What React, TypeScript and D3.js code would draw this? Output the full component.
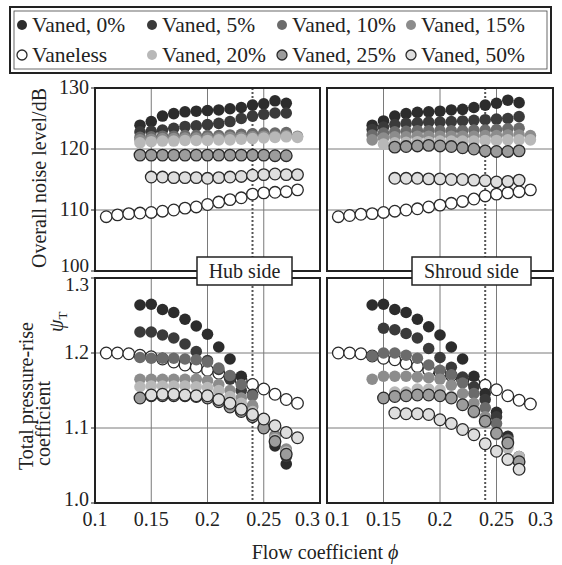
import React from 'react';
import * as d3 from 'd3';

// flow coefficient grids
const phi11_28 = [0.11, 0.12, 0.13, 0.14, 0.15, 0.16, 0.17, 0.18, 0.19, 0.2, 0.21, 0.22, 0.23, 0.24, 0.25, 0.26, 0.27, 0.28];
const phi14_27 = [0.14, 0.15, 0.16, 0.17, 0.18, 0.19, 0.2, 0.21, 0.22, 0.23, 0.24, 0.25, 0.26, 0.27];
const phi14_28 = [0.14, 0.15, 0.16, 0.17, 0.18, 0.19, 0.2, 0.21, 0.22, 0.23, 0.24, 0.25, 0.26, 0.27, 0.28];
const phi15_27 = [0.15, 0.16, 0.17, 0.18, 0.19, 0.2, 0.21, 0.22, 0.23, 0.24, 0.25, 0.26, 0.27];
const phi15_28 = [0.15, 0.16, 0.17, 0.18, 0.19, 0.2, 0.21, 0.22, 0.23, 0.24, 0.25, 0.26, 0.27, 0.28];
const phi16_27 = [0.16, 0.17, 0.18, 0.19, 0.2, 0.21, 0.22, 0.23, 0.24, 0.25, 0.26, 0.27];

const phiTicks = [0.1, 0.15, 0.2, 0.25, 0.3];
const phiTickLabels = ['0.1', '0.15', '0.2', '0.25', '0.3'];
const noiseTicks = [100, 110, 120, 130];
const psiTicks = [1.0, 1.1, 1.2, 1.3];
const psiTickLabels = ['1.0', '1.1', '1.2', '1.3'];
const designPhi = 0.24;

// hub side, overall noise level (dB)
const hubNoiseVaneless = [108.9, 109.2, 109.4, 109.5, 109.6, 109.8, 110.0, 110.3, 110.5, 110.9, 111.3, 111.7, 112.0, 112.6, 112.8, 112.9, 113.0, 113.3];
const hubNoise0 = [123.9, 124.5, 125.4, 125.8, 126.1, 126.2, 126.3, 126.4, 126.6, 126.8, 127.2, 127.4, 127.9, 127.5];
const hubNoise5 = [122.8, 122.9, 123.1, 123.4, 123.7, 123.8, 124.0, 124.2, 124.5, 125.0, 125.4, 125.7, 125.9, 125.9];
const hubNoise10 = [121.9, 122.0, 122.1, 122.1, 122.2, 122.2, 122.2, 122.2, 122.3, 122.4, 122.5, 122.6, 122.6, 122.7];
const hubNoise15 = [121.5, 121.6, 121.7, 121.7, 121.8, 121.8, 121.8, 121.8, 121.9, 121.9, 122.0, 122.1, 122.1, 122.2, 122.1];
const hubNoise20 = [121.0, 121.2, 121.3, 121.3, 121.4, 121.4, 121.4, 121.5, 121.5, 121.6, 121.7, 121.8, 121.9, 122.0, 121.9];
const hubNoise25 = [119.0, 119.0, 119.0, 119.0, 119.0, 119.0, 119.0, 119.0, 119.0, 119.0, 119.0, 119.0, 118.9, 118.9];
const hubNoise50 = [115.4, 115.4, 115.3, 115.3, 115.3, 115.2, 115.3, 115.4, 115.5, 115.7, 115.8, 115.9, 115.8, 115.8];

// shroud side, overall noise level (dB)
const shrNoiseVaneless = [108.9, 109.1, 109.3, 109.4, 109.6, 109.8, 110.0, 110.2, 110.5, 110.8, 111.1, 111.4, 111.8, 112.3, 112.6, 112.8, 113.0, 113.3];
const shrNoise0 = [123.9, 124.6, 125.4, 125.8, 126.0, 126.1, 126.2, 126.4, 126.5, 126.8, 127.2, 127.5, 128.0, 127.6];
const shrNoise5 = [123.2, 123.6, 124.0, 124.2, 124.3, 124.4, 124.4, 124.5, 124.6, 124.7, 124.8, 124.9, 125.0, 125.3];
const shrNoise10 = [122.3, 122.6, 122.8, 122.9, 123.0, 123.0, 123.0, 123.0, 123.0, 123.1, 123.1, 123.2, 123.3, 123.4];
const shrNoise15 = [121.5, 121.8, 122.0, 122.0, 122.1, 122.1, 122.1, 122.1, 122.1, 122.1, 122.2, 122.2, 122.3, 122.3, 122.2];
const shrNoise20 = [120.8, 121.0, 121.1, 121.2, 121.2, 121.3, 121.3, 121.3, 121.3, 121.4, 121.4, 121.5, 121.5, 121.5];
const shrNoise25 = [120.3, 120.4, 120.5, 120.6, 120.5, 120.4, 120.2, 120.0, 119.7, 119.6, 119.6, 119.7];
const shrNoise50 = [115.2, 115.2, 115.2, 115.1, 115.1, 115.0, 115.0, 114.9, 114.8, 114.6, 114.7, 114.9];

// hub side, total pressure-rise coefficient
const hubPsiVaneless = [1.200, 1.200, 1.199, 1.197, 1.195, 1.192, 1.188, 1.184, 1.181, 1.177, 1.173, 1.168, 1.163, 1.158, 1.152, 1.145, 1.138, 1.133];
const hubPsi0 = [1.264, 1.265, 1.258, 1.254, 1.245, 1.236, 1.225, 1.208, 1.192, 1.169, 1.145, 1.103, 1.076, 1.052];
const hubPsi5 = [1.228, 1.228, 1.224, 1.220, 1.212, 1.202, 1.190, 1.178, 1.165, 1.150, 1.128, 1.105, 1.082, 1.062];
const hubPsi10 = [1.194, 1.193, 1.193, 1.193, 1.192, 1.191, 1.188, 1.180, 1.170, 1.158, 1.143, 1.112, 1.090, 1.070];
const hubPsi15 = [1.165, 1.165, 1.165, 1.165, 1.165, 1.165, 1.163, 1.158, 1.150, 1.140, 1.130, 1.108, 1.088, 1.072];
const hubPsi20 = [1.155, 1.156, 1.156, 1.156, 1.156, 1.155, 1.154, 1.150, 1.142, 1.133, 1.122, 1.102, 1.085, 1.068];
const hubPsi25 = [1.140, 1.143, 1.143, 1.143, 1.143, 1.142, 1.140, 1.135, 1.128, 1.122, 1.115, 1.100, 1.082, 1.065];
const hubPsi50 = [1.144, 1.145, 1.145, 1.144, 1.143, 1.143, 1.138, 1.133, 1.125, 1.118, 1.112, 1.103, 1.094, 1.087];

// shroud side, total pressure-rise coefficient
const shrPsiVaneless = [1.200, 1.200, 1.199, 1.196, 1.193, 1.191, 1.186, 1.182, 1.177, 1.174, 1.170, 1.164, 1.160, 1.157, 1.151, 1.143, 1.137, 1.132];
const shrPsi0 = [1.264, 1.265, 1.258, 1.254, 1.245, 1.235, 1.224, 1.208, 1.192, 1.169, 1.146, 1.121, 1.089, 1.055];
const shrPsi5 = [1.233, 1.231, 1.226, 1.220, 1.206, 1.194, 1.181, 1.168, 1.155, 1.138, 1.115, 1.085, 1.062];
const shrPsi10 = [1.196, 1.200, 1.200, 1.197, 1.193, 1.184, 1.177, 1.171, 1.160, 1.146, 1.127, 1.106, 1.084, 1.060];
const shrPsi15 = [1.165, 1.169, 1.169, 1.169, 1.168, 1.167, 1.165, 1.157, 1.146, 1.133, 1.115, 1.093, 1.075, 1.058];
const shrPsi20 = [1.148, 1.148, 1.152, 1.152, 1.151, 1.142, 1.131, 1.120, 1.106, 1.091, 1.073, 1.062];
const shrPsi25 = [1.140, 1.142, 1.143, 1.144, 1.144, 1.143, 1.140, 1.131, 1.122, 1.109, 1.093, 1.080, 1.055];
const shrPsi50 = [1.120, 1.119, 1.119, 1.118, 1.111, 1.106, 1.098, 1.091, 1.079, 1.069, 1.058, 1.045];

// legend order (two rows of four) and styles
const legendNames = ['Vaned, 0%', 'Vaned, 5%', 'Vaned, 10%', 'Vaned, 15%', 'Vaneless', 'Vaned, 20%', 'Vaned, 25%', 'Vaned, 50%'];
const styles: Record<string, { fill: string; stroke: string }> = {
  'Vaneless': { fill: '#ffffff', stroke: '#2a2a2a' },
  'Vaned, 0%': { fill: '#2c2c2c', stroke: 'none' },
  'Vaned, 5%': { fill: '#3a3a3a', stroke: 'none' },
  'Vaned, 10%': { fill: '#6b6b6b', stroke: 'none' },
  'Vaned, 15%': { fill: '#8c8c8c', stroke: 'none' },
  'Vaned, 20%': { fill: '#b8b8b8', stroke: 'none' },
  'Vaned, 25%': { fill: '#9c9c9c', stroke: '#2a2a2a' },
  'Vaned, 50%': { fill: '#dedede', stroke: '#2a2a2a' },
};

type Series = { name: string; phi: number[]; v: number[] };

// draw order: vaneless first, then vaned
const hubNoise: Series[] = [
  { name: 'Vaneless', phi: phi11_28, v: hubNoiseVaneless },
  { name: 'Vaned, 0%', phi: phi14_27, v: hubNoise0 },
  { name: 'Vaned, 5%', phi: phi14_27, v: hubNoise5 },
  { name: 'Vaned, 10%', phi: phi14_27, v: hubNoise10 },
  { name: 'Vaned, 15%', phi: phi14_28, v: hubNoise15 },
  { name: 'Vaned, 20%', phi: phi14_28, v: hubNoise20 },
  { name: 'Vaned, 25%', phi: phi14_27, v: hubNoise25 },
  { name: 'Vaned, 50%', phi: phi15_28, v: hubNoise50 },
];
const shrNoise: Series[] = [
  { name: 'Vaneless', phi: phi11_28, v: shrNoiseVaneless },
  { name: 'Vaned, 0%', phi: phi14_27, v: shrNoise0 },
  { name: 'Vaned, 5%', phi: phi14_27, v: shrNoise5 },
  { name: 'Vaned, 10%', phi: phi14_27, v: shrNoise10 },
  { name: 'Vaned, 15%', phi: phi14_28, v: shrNoise15 },
  { name: 'Vaned, 20%', phi: phi15_28, v: shrNoise20 },
  { name: 'Vaned, 25%', phi: phi16_27, v: shrNoise25 },
  { name: 'Vaned, 50%', phi: phi16_27, v: shrNoise50 },
];
const hubPsi: Series[] = [
  { name: 'Vaneless', phi: phi11_28, v: hubPsiVaneless },
  { name: 'Vaned, 0%', phi: phi14_27, v: hubPsi0 },
  { name: 'Vaned, 5%', phi: phi14_27, v: hubPsi5 },
  { name: 'Vaned, 10%', phi: phi14_27, v: hubPsi10 },
  { name: 'Vaned, 15%', phi: phi14_27, v: hubPsi15 },
  { name: 'Vaned, 20%', phi: phi14_27, v: hubPsi20 },
  { name: 'Vaned, 25%', phi: phi14_27, v: hubPsi25 },
  { name: 'Vaned, 50%', phi: phi15_28, v: hubPsi50 },
];
const shrPsi: Series[] = [
  { name: 'Vaneless', phi: phi11_28, v: shrPsiVaneless },
  { name: 'Vaned, 0%', phi: phi14_27, v: shrPsi0 },
  { name: 'Vaned, 5%', phi: phi15_27, v: shrPsi5 },
  { name: 'Vaned, 10%', phi: phi14_27, v: shrPsi10 },
  { name: 'Vaned, 15%', phi: phi14_27, v: shrPsi15 },
  { name: 'Vaned, 20%', phi: phi16_27, v: shrPsi20 },
  { name: 'Vaned, 25%', phi: phi15_27, v: shrPsi25 },
  { name: 'Vaned, 50%', phi: phi16_27, v: shrPsi50 },
];

const FONT = '"Liberation Serif", "DejaVu Serif", serif';
const R = 5.8;

const Panel = ({ x0, x1, y0, y1, yDomain, yTicks, series }:
  { x0: number; x1: number; y0: number; y1: number; yDomain: number[]; yTicks: number[]; series: Series[] }) => {
  const x = d3.scaleLinear().domain([0.1, 0.3]).range([x0, x1]);
  const y = d3.scaleLinear().domain(yDomain).range([y1, y0]);
  return (
    <g>
      {phiTicks.slice(1, -1).map(t => (
        <line key={'gx' + t} x1={x(t)} x2={x(t)} y1={y0} y2={y1} stroke="#7a7a7a" strokeWidth={1} />
      ))}
      {yTicks.slice(1, -1).map(t => (
        <line key={'gy' + t} x1={x0} x2={x1} y1={y(t)} y2={y(t)} stroke="#7a7a7a" strokeWidth={1} />
      ))}
      <line x1={x(designPhi)} x2={x(designPhi)} y1={y0} y2={y1} stroke="#555" strokeWidth={2} strokeDasharray="2,2" />
      {series.map(s => (
        <g key={s.name}>
          {s.v.map((v, i) => (
            <circle key={i} cx={x(s.phi[i])} cy={y(v)} r={R}
              fill={styles[s.name].fill} stroke={styles[s.name].stroke} strokeWidth={1.3} />
          ))}
        </g>
      ))}
      <rect x={x0} y={y0} width={x1 - x0} height={y1 - y0} fill="none" stroke="#222" strokeWidth={2} />
    </g>
  );
};

export default function App() {
  const left = [95, 320];
  const right = [327, 553];
  const top = [88, 271];
  const bot = [278, 503];
  const xl = d3.scaleLinear().domain([0.1, 0.3]).range(left);
  const xr = d3.scaleLinear().domain([0.1, 0.3]).range(right);
  const yN = d3.scaleLinear().domain([100, 130]).range([top[1], top[0]]);
  const yP = d3.scaleLinear().domain([1.0, 1.3]).range([bot[1], bot[0]]);

  const legendX = [22, 152, 282, 411];
  const legendY = [25, 55];

  const anchorL = (i: number) => (i === phiTicks.length - 1 ? 'end' : 'middle');
  const anchorR = (i: number) => (i === 0 ? 'start' : i === phiTicks.length - 1 ? 'end' : 'middle');

  return (
    <svg width={562} height={565} style={{ position: 'absolute', left: 0, top: 0, background: '#fff' }}
      fontFamily={FONT} fontSize={20} fill="#222">
      {/* legend */}
      <rect x={10} y={7} width={541} height={66} fill="#fff" stroke="#222" strokeWidth={2} />
      <rect x={14} y={11} width={533} height={58} fill="none" stroke="#444" strokeWidth={0.8} />
      {legendNames.map((n, i) => {
        const cx = legendX[i % 4];
        const cy = legendY[Math.floor(i / 4)];
        return (
          <g key={n}>
            <circle cx={cx} cy={cy} r={5} fill={styles[n].fill} stroke={styles[n].stroke} strokeWidth={1.3} />
            <text x={cx + 10} y={cy + 7} fontSize={21.5}>{n}</text>
          </g>
        );
      })}

      <Panel x0={left[0]} x1={left[1]} y0={top[0]} y1={top[1]} yDomain={[100, 130]} yTicks={noiseTicks} series={hubNoise} />
      <Panel x0={right[0]} x1={right[1]} y0={top[0]} y1={top[1]} yDomain={[100, 130]} yTicks={noiseTicks} series={shrNoise} />
      <Panel x0={left[0]} x1={left[1]} y0={bot[0]} y1={bot[1]} yDomain={[1.0, 1.3]} yTicks={psiTicks} series={hubPsi} />
      <Panel x0={right[0]} x1={right[1]} y0={bot[0]} y1={bot[1]} yDomain={[1.0, 1.3]} yTicks={psiTicks} series={shrPsi} />

      {/* side labels */}
      <rect x={197} y={257} width={95} height={28} fill="#fff" stroke="#222" strokeWidth={1.5} />
      <text x={244.5} y={278} textAnchor="middle">Hub side</text>
      <rect x={412} y={257} width={119} height={28} fill="#fff" stroke="#222" strokeWidth={1.5} />
      <text x={471.5} y={278} textAnchor="middle">Shroud side</text>

      {/* y ticks */}
      {noiseTicks.map((t, i) => (
        <g key={'n' + t}>
          <line x1={left[0] - 4} x2={left[0]} y1={yN(t)} y2={yN(t)} stroke="#222" />
          <text x={left[0] - 6} y={yN(t) + (i === 0 ? 1 : 6)} textAnchor="end" fontSize={i === 0 ? 19 : 20}>{t}</text>
        </g>
      ))}
      {psiTicks.map((t, i) => (
        <g key={'p' + t}>
          <line x1={left[0] - 4} x2={left[0]} y1={yP(t)} y2={yP(t)} stroke="#222" />
          <text x={left[0] - 6} y={yP(t) + (i === 3 ? 13 : i === 0 ? 3 : 6)} textAnchor="end" fontSize={i === 3 ? 19 : 20}>{psiTickLabels[i]}</text>
        </g>
      ))}

      {/* x ticks */}
      {phiTicks.map((t, i) => (
        <g key={'x' + t}>
          <text x={xl(t)} y={526} textAnchor={anchorL(i)}>{phiTickLabels[i]}</text>
          <text x={i === 0 ? xr(t) - 2 : xr(t)} y={526} textAnchor={anchorR(i)}>{phiTickLabels[i]}</text>
        </g>
      ))}

      {/* axis titles */}
      <text transform="translate(46,178) rotate(-90)" textAnchor="middle">Overall noise level/dB</text>
      <text transform="translate(33,470) rotate(-90)" textAnchor="start">Total pressure-rise</text>
      <text transform="translate(50,466) rotate(-90)" textAnchor="start">coefficient</text>
      <text transform="translate(63,332) rotate(-90)" fontStyle="italic">ψ<tspan fontSize={13} fontStyle="normal" dy={4}>T</tspan></text>
      <text x={325} y={559} textAnchor="middle">Flow coefficient <tspan fontStyle="italic">ϕ</tspan></text>
    </svg>
  );
}
